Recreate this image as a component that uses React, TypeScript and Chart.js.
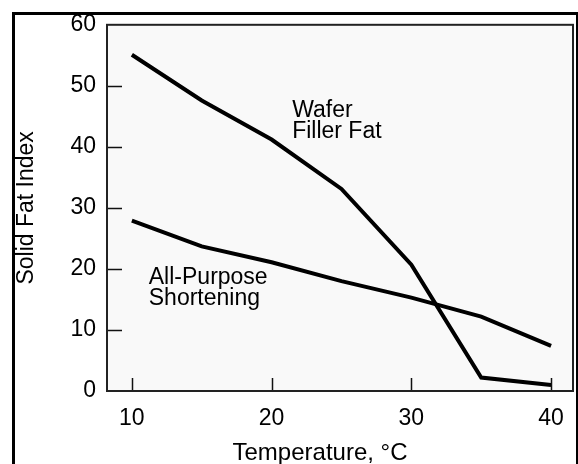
import { useEffect, useRef } from "react";
import { Chart, registerables } from "chart.js";

Chart.register(...registerables);

// ---- data ----
const temperatures = [10, 15, 20, 25, 30, 35, 40];
const waferFillerFat = [55.1, 47.6, 41.2, 33.1, 20.7, 2.2, 1.0];
const allPurposeShortening = [27.9, 23.7, 21.1, 18.0, 15.3, 12.2, 7.4];
const xTickValues = [10, 20, 30, 40];
const yTickValues = [0, 10, 20, 30, 40, 50, 60];
const xInnerTicks = [10, 20, 30, 40];
const yInnerTicks = [10, 20, 30, 40, 50];
const waferLabel = ["Wafer", "Filler Fat"];
const shorteningLabel = ["All-Purpose", "Shortening"];
const xTitle = "Temperature, °C";
const yTitle = "Solid Fat Index";

// ---- layout / style (not data) ----
const FONT = "'Liberation Sans', Arial, sans-serif";
const waferAnchor = { x: 21.47, y: 44.9 };
const shorteningAnchor = { x: 11.21, y: 17.5 };

const decorPlugin = {
  id: "decor",
  beforeDraw(chart: any) {
    const { ctx, chartArea: a } = chart;
    ctx.save();
    ctx.fillStyle = "#ffffff";
    ctx.fillRect(0, 0, chart.width, chart.height);
    ctx.fillStyle = "#f9f9f9";
    ctx.fillRect(a.left, a.top, a.right - a.left, a.bottom - a.top);
    ctx.restore();
  },
  afterDatasetsDraw(chart: any) {
    const { ctx, chartArea: a, scales } = chart;
    const xs = scales.x;
    const ys = scales.y;
    ctx.save();
    // inward tick marks
    ctx.strokeStyle = "#111";
    ctx.lineWidth = 1.5;
    ctx.beginPath();
    yInnerTicks.forEach((v) => {
      const py = Math.round(ys.getPixelForValue(v)) + 0.5;
      ctx.moveTo(a.left, py);
      ctx.lineTo(a.left + 15, py);
    });
    xInnerTicks.forEach((v) => {
      const px = Math.round(xs.getPixelForValue(v)) + 0.5;
      ctx.moveTo(px, a.bottom);
      ctx.lineTo(px, a.bottom - 13);
    });
    ctx.stroke();
    // plot border
    ctx.strokeStyle = "#222";
    ctx.lineWidth = 2;
    ctx.strokeRect(a.left, a.top, a.right - a.left, a.bottom - a.top);
    // annotations
    ctx.fillStyle = "#000";
    ctx.font = `23px ${FONT}`;
    ctx.textAlign = "left";
    ctx.textBaseline = "alphabetic";
    const drawLines = (lines: string[], anchor: { x: number; y: number }) => {
      const px = xs.getPixelForValue(anchor.x);
      const py = ys.getPixelForValue(anchor.y);
      lines.forEach((t, i) => ctx.fillText(t, px, py + i * 21));
    };
    drawLines(waferLabel, waferAnchor);
    drawLines(shorteningLabel, shorteningAnchor);
    ctx.restore();
  },
  afterDraw(chart: any) {
    const { ctx } = chart;
    ctx.save();
    ctx.fillStyle = "#ffffff";
    ctx.fillRect(0, 0, chart.width, 15);
    ctx.fillStyle = "#000";
    ctx.fillRect(12, 12, 566, 3);
    ctx.fillRect(12, 12, 3, chart.height - 12);
    ctx.fillRect(576, 12, 2, chart.height - 12);
    ctx.restore();
  },
};

export default function App() {
  const canvasRef = useRef<HTMLCanvasElement | null>(null);

  useEffect(() => {
    const canvas = canvasRef.current;
    if (!canvas) return;
    const chart = new Chart(canvas, {
      type: "line",
      data: {
        datasets: [
          {
            label: "Wafer Filler Fat",
            data: temperatures.map((t, i) => ({ x: t, y: waferFillerFat[i] })),
            borderColor: "#000",
            borderWidth: 4,
            pointRadius: 0,
            tension: 0,
            fill: false,
          },
          {
            label: "All-Purpose Shortening",
            data: temperatures.map((t, i) => ({ x: t, y: allPurposeShortening[i] })),
            borderColor: "#000",
            borderWidth: 4,
            pointRadius: 0,
            tension: 0,
            fill: false,
          },
        ],
      },
      options: {
        animation: false,
        responsive: false,
        devicePixelRatio: 1,
        layout: { padding: { top: 17, right: 3, left: 0, bottom: 0 } },
        plugins: {
          legend: { display: false },
          tooltip: { enabled: false },
        },
        scales: {
          x: {
            type: "linear",
            min: 8.22,
            max: 41.57,
            afterBuildTicks: (s: any) => {
              s.ticks = xTickValues.map((v) => ({ value: v }));
            },
            afterFit: (s: any) => {
              s.height = 73;
            },
            grid: { display: false, drawTicks: false },
            border: { display: false },
            ticks: {
              color: "#000",
              font: { family: FONT, size: 23 },
              padding: 14,
              maxRotation: 0,
              autoSkip: false,
            },
            title: {
              display: true,
              text: xTitle + "\u00a0\u00a0\u00a0\u00a0\u00a0\u00a0",
              color: "#000",
              font: { family: FONT, size: 24, lineHeight: 1 },
              padding: { top: 0, bottom: -1 },
            },
          },
          y: {
            type: "linear",
            min: 0,
            max: 60,
            afterBuildTicks: (s: any) => {
              s.ticks = yTickValues.map((v) => ({ value: v }));
            },
            afterFit: (s: any) => {
              s.width = 107;
            },
            grid: { display: false, drawTicks: false },
            border: { display: false },
            ticks: {
              color: "#000",
              font: { family: FONT, size: 23 },
              padding: 11,
              autoSkip: false,
            },
            title: {
              display: true,
              text: yTitle,
              color: "#000",
              font: { family: FONT, size: 23, lineHeight: 1 },
              padding: { top: 15, bottom: 0 },
            },
          },
        },
      },
      plugins: [decorPlugin],
    } as any);
    return () => chart.destroy();
  }, []);

  return (
    <div style={{ position: "fixed", left: 0, top: 0, width: 578, height: 464 }}>
      <canvas ref={canvasRef} width={578} height={464} style={{ display: "block" }} />
    </div>
  );
}
